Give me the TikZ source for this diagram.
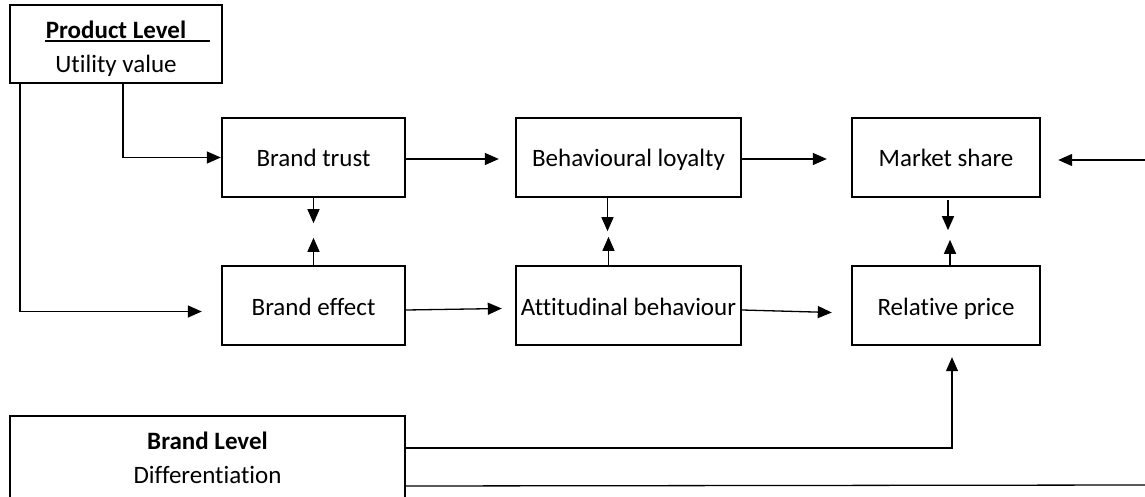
\documentclass[tikz,border=0pt]{standalone}
\usepackage{fontspec}
\setmainfont{Carlito}[RawFeature=-liga]
\usetikzlibrary{arrows.meta,calc}
\begin{document}
\begin{tikzpicture}[x=1pt, y=-1pt, font=\fontsize{25}{34}\selectfont,
  box/.style={draw, line width=2.4pt, inner sep=0pt, minimum height=79pt, text height=21pt, text depth=2pt},
  frame/.style={draw, line width=2.4pt, inner sep=0pt},
  conn/.style={line width=1.3pt, -{Triangle[length=14pt,width=12pt]}},
  plain/.style={line width=1.3pt}]
  \clip (0,0) rectangle (1145,497);
  % boxes
  \node[frame, minimum width=212pt, minimum height=78pt] (prod) at (116,44) {};
  \node[align=center, anchor=north, inner sep=0pt] (prodtxt) at ($(prod.north)+(0,17)$) {\textbf{Product Level}\\Utility value};
  \draw[line width=1.2pt] (45,41) -- (210,41);
  \node[box, minimum width=183pt] (trust) at (313.5,157.5) {Brand trust};
  \node[box, minimum width=225pt] (loyal) at (628.5,157.5) {Behavioural loyalty};
  \node[box, minimum width=188pt] (share) at (946,157.5) {Market share};
  \node[box, minimum width=183pt] (effect) at (313.5,305.5) {Brand effect};
  \node[box, minimum width=225pt] (attit) at (628.5,305.5) {Attitudinal behaviour};
  \node[box, minimum width=188pt] (price) at (946,305.5) {Relative price};
  \node[frame, minimum width=395pt, minimum height=140pt, anchor=north] (brand) at (207.5,415) {};
  \node[align=center, anchor=north, inner sep=0pt] (brandtxt) at ($(brand.north)+(0,17)$) {\textbf{Brand Level}\\Differentiation};
  % free ends
  \coordinate (rin) at (1145,160);
  \coordinate (rout) at (1145,485);
  % connectors
  \draw[conn] ($(prod.south)+(7,0)$) |- (trust.west);
  \draw[conn] ($(prod.south)+(-96,0)$) |- ($(effect.west)+(-19,6)$);
  \draw[conn] ($(trust.east)+(0,1.5)$) -- ($(loyal.west)+(-16,1.5)$);
  \draw[conn] ($(loyal.east)+(0,1.5)$) -- ($(share.west)+(-24,1.5)$);
  \draw[conn] (rin) -- ($(share.east)+(17,2.5)$);
  \draw[conn] ($(effect.east)+(0,4.5)$) -- ($(attit.west)+(-13,3)$);
  \draw[conn] ($(attit.east)+(0,4.5)$) -- ($(price.west)+(-19,7)$);
  \draw[conn] (trust.south) -- ++(0,25);
  \draw[conn] (effect.north) -- ++(0,-27);
  \draw[conn] ($(loyal.south)+(-21,0)$) -- ++(0,33);
  \draw[conn] ($(attit.north)+(-20,0)$) -- ++(0,-28);
  \draw[conn] ($(share.south)+(2,2)$) -- ++(0,30);
  \draw[conn] ($(price.north)+(4,0)$) -- ++(0,-25);
  \draw[conn] ($(brand.north east)+(0,33)$) -| ($(price.south)+(6,11)$);
  \draw[plain] ($(brand.north east)+(0,71)$) -- (rout);
\end{tikzpicture}
\end{document}
